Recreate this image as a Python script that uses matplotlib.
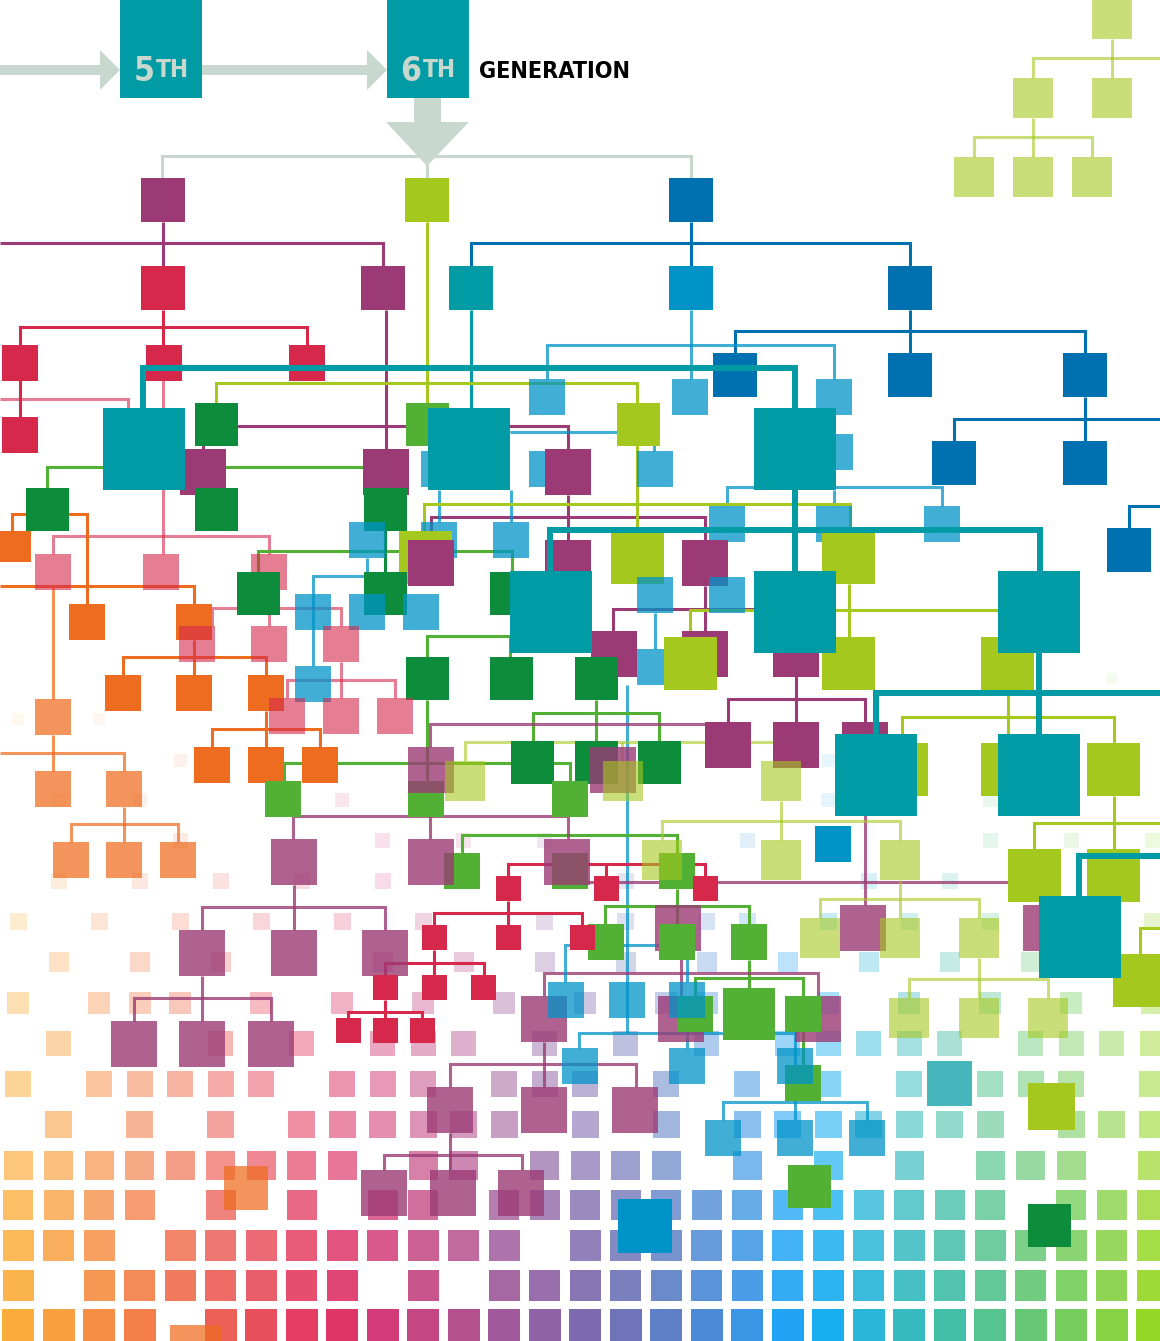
import matplotlib
matplotlib.use("Agg")
import matplotlib.pyplot as plt
from matplotlib.patches import Rectangle, Polygon
from matplotlib import font_manager as fm

W, H = 1160, 1341

# colours: key -> (hex, alpha)
palette = {
    'P': ('#9B3A75', 1.0), 'PL': ('#9B3A75', 0.8),
    'R': ('#D5284B', 1.0), 'PK': ('#D5284B', 0.6),
    'O': ('#EE6C1F', 1.0), 'OL': ('#EE6C1F', 0.73),
    'G': ('#0D8C3B', 1.0), 'GL': ('#52B135', 1.0),
    'LM': ('#A5C81E', 1.0), 'LML': ('#A5C81E', 0.6),
    'T': ('#009BA4', 1.0), 'TL': ('#009BA4', 0.73),
    'B': ('#0071B0', 1.0), 'SB': ('#0093C8', 1.0), 'LB': ('#0093C8', 0.75),
    'GR': ('#C9D8CE', 1.0),
}

# background grid of fading squares
grid_cols = [18 + 40.5 * i for i in range(29)]
grid_colors = ['#FBAD3B', '#F9A040', '#F68F45', '#F3804A', '#F07050', '#EC6058',
               '#E8505E', '#E43E62', '#DE3569', '#D33C78', '#C44682', '#B5508E',
               '#A05A9B', '#8F63A5', '#7E6AAE', '#6F74B8', '#5E80C6', '#4C8AD6',
               '#3A95E4', '#22A4F4', '#19AEF0', '#2AB6D8', '#36BAC0', '#43BEA8',
               '#55C48E', '#66C874', '#76CD5C', '#86D244', '#95D727']
grid_rows = [1325, 1285, 1245, 1205, 1165, 1124, 1084, 1043, 1003, 962, 921,
             881, 840, 800, 760, 719, 678]
grid_sizes = [32, 31, 31, 30, 29, 27, 26, 25, 22, 20, 17, 16, 15, 14, 13, 12, 11]
grid_alpha = [1.0, 0.92, 0.85, 0.78, 0.68, 0.58, 0.52, 0.45, 0.38, 0.3, 0.23,
              0.18, 0.15, 0.12, 0.1, 0.08, 0.07]
grid_mask = [
    "1111" + "0" + "1" * 24,
    "101111111010111" + "11111111111111",
    "111011111111101" + "11111111111111",
    "111101010110111" + "11111111110111",
    "111111111011011" + "11010101011101",
    "010101011111101" + "01011111110111",
    "101111101110111" + "01010101011101",
    "010001010111010" + "10101111101111",
    "101110101010101" + "01100101010101",
    "010101000101010" + "10101010101000",
    "101010101010010" + "10110101010001",
    "010101010100000" + "10000010100000",
    "000010000101010" + "00010100010101",
    "010100001000000" + "00000100010000",
    "000010000000000" + "00000100000000",
    "101000000000000" + "00000000000000",
    "000000000000000" + "00000000000010",
]

# tree nodes: (x, y, size, colour key), drawn in order
nodes = [
    (141, 178, 44, 'P'), (405, 178, 44, 'LM'), (669, 178, 44, 'B'),
    (141, 266, 44, 'R'), (361, 266, 44, 'P'), (669, 266, 44, 'SB'), (888, 266, 44, 'B'),
    (2, 345, 36, 'R'), (146, 345, 36, 'R'), (289, 345, 36, 'R'), (2, 417, 36, 'R'),
    (713, 353, 44, 'B'), (888, 353, 44, 'B'), (1063, 353, 44, 'B'),
    (529, 379, 36, 'LB'), (672, 379, 36, 'LB'), (816, 379, 36, 'LB'),
    (932, 441, 44, 'B'), (1063, 441, 44, 'B'), (1107, 528, 44, 'B'),
    (195, 403, 43, 'G'), (406, 403, 43, 'GL'), (617, 403, 43, 'LM'),
    (421, 451, 36, 'LB'), (529, 451, 36, 'LB'), (637, 451, 36, 'LB'), (817, 434, 36, 'LB'),
    (180, 449, 46, 'P'), (363, 449, 46, 'P'), (545, 449, 46, 'P'),
    (26, 488, 43, 'G'), (195, 488, 43, 'G'), (364, 488, 43, 'G'),
    (0, 531, 31, 'O'),
    (709, 506, 36, 'LB'), (816, 506, 36, 'LB'), (924, 506, 36, 'LB'),
    (349, 522, 36, 'LB'), (421, 522, 36, 'LB'), (493, 522, 36, 'LB'),
    (399, 531, 53, 'LM'), (611, 531, 53, 'LM'), (822, 531, 53, 'LM'),
    (408, 540, 46, 'P'), (545, 540, 46, 'P'), (682, 540, 46, 'P'),
    (35, 554, 36, 'PK'), (143, 554, 36, 'PK'), (251, 554, 36, 'PK'),
    (237, 572, 43, 'G'), (364, 572, 43, 'G'), (490, 572, 43, 'G'),
    (295, 594, 36, 'LB'), (349, 594, 36, 'LB'), (403, 594, 36, 'LB'),
    (637, 577, 36, 'LB'), (709, 577, 36, 'LB'),
    (69, 604, 36, 'O'), (176, 604, 36, 'O'),
    (179, 626, 36, 'PK'), (251, 626, 36, 'PK'), (323, 626, 36, 'PK'),
    (773, 631, 46, 'P'), (591, 631, 46, 'P'), (682, 631, 46, 'P'),
    (637, 649, 36, 'LB'), (664, 637, 53, 'LM'),
    (822, 637, 53, 'LM'), (981, 637, 53, 'LM'),
    (406, 657, 43, 'G'), (490, 657, 43, 'G'), (575, 657, 43, 'G'),
    (105, 675, 36, 'O'), (176, 675, 36, 'O'), (248, 675, 36, 'O'),
    (295, 666, 36, 'LB'),
    (269, 698, 36, 'PK'), (323, 698, 36, 'PK'), (377, 698, 36, 'PK'),
    (35, 699, 36, 'OL'),
    (705, 722, 46, 'P'), (773, 722, 46, 'P'), (842, 722, 46, 'P'),
    (875, 743, 53, 'LM'), (981, 743, 53, 'LM'), (1087, 743, 53, 'LM'),
    (194, 747, 36, 'O'), (248, 747, 36, 'O'), (302, 747, 36, 'O'),
    (511, 741, 43, 'G'), (575, 741, 43, 'G'), (638, 741, 43, 'G'),
    (35, 771, 36, 'OL'), (106, 771, 36, 'OL'),
    (265, 781, 36, 'GL'), (408, 781, 36, 'GL'), (552, 781, 36, 'GL'),
    (408, 747, 46, 'PL'), (590, 747, 46, 'PL'),
    (445, 761, 40, 'LML'), (603, 761, 40, 'LML'), (761, 761, 40, 'LML'),
    (815, 826, 36, 'SB'),
    (53, 842, 36, 'OL'), (106, 842, 36, 'OL'), (160, 842, 36, 'OL'),
    (444, 853, 36, 'GL'), (552, 853, 36, 'GL'), (659, 853, 36, 'GL'),
    (271, 839, 46, 'PL'), (408, 839, 46, 'PL'), (544, 839, 46, 'PL'),
    (642, 840, 40, 'LML'), (761, 840, 40, 'LML'), (880, 840, 40, 'LML'),
    (1008, 849, 53, 'LM'), (1087, 849, 53, 'LM'),
    (496, 876, 25, 'R'), (594, 876, 25, 'R'), (693, 876, 25, 'R'),
    (1113, 954, 53, 'LM'),
    (840, 905, 46, 'PL'), (1023, 905, 46, 'PL'), (655, 905, 46, 'PL'),
    (800, 918, 40, 'LML'), (880, 918, 40, 'LML'), (959, 918, 40, 'LML'),
    (588, 924, 36, 'GL'), (659, 924, 36, 'GL'), (731, 924, 36, 'GL'),
    (422, 925, 25, 'R'), (496, 925, 25, 'R'), (570, 925, 25, 'R'),
    (179, 930, 46, 'PL'), (271, 930, 46, 'PL'), (362, 930, 46, 'PL'),
    (373, 975, 25, 'R'), (422, 975, 25, 'R'), (471, 975, 25, 'R'),
    (336, 1018, 25, 'R'), (373, 1018, 25, 'R'), (410, 1018, 25, 'R'),
    (889, 998, 40, 'LML'), (959, 998, 40, 'LML'), (1028, 998, 40, 'LML'),
    (521, 996, 46, 'PL'), (658, 996, 46, 'PL'), (795, 996, 46, 'PL'),
    (677, 996, 36, 'GL'), (723, 988, 52, 'GL'), (785, 996, 36, 'GL'),
    (548, 982, 36, 'LB'), (609, 982, 36, 'LB'), (669, 982, 36, 'LB'),
    (111, 1021, 46, 'PL'), (179, 1021, 46, 'PL'), (248, 1021, 46, 'PL'),
    (785, 1065, 36, 'GL'),
    (562, 1048, 36, 'LB'), (669, 1048, 36, 'LB'), (777, 1048, 36, 'LB'),
    (927, 1061, 45, 'TL'), (1028, 1083, 47, 'LM'),
    (427, 1087, 46, 'PL'), (521, 1087, 46, 'PL'), (612, 1087, 46, 'PL'),
    (705, 1120, 36, 'LB'), (777, 1120, 36, 'LB'), (849, 1120, 36, 'LB'),
    (224, 1166, 44, 'OL'), (788, 1165, 43, 'GL'),
    (361, 1170, 46, 'PL'), (430, 1170, 46, 'PL'), (498, 1170, 46, 'PL'),
    (618, 1199, 54, 'SB'), (1028, 1204, 43, 'G'),
    (170, 1325, 52, 'OL'),
    # pale tree, top right
    (1092, -1, 40, 'LML'), (1013, 78, 40, 'LML'), (1092, 78, 40, 'LML'),
    (954, 157, 40, 'LML'), (1013, 157, 40, 'LML'), (1072, 157, 40, 'LML'),
]

teal_nodes = [(449, 266, 44), (103, 408, 82), (428, 408, 82), (754, 408, 82),
              (510, 571, 82), (754, 571, 82), (998, 571, 82),
              (835, 734, 82), (998, 734, 82), (1039, 896, 82)]

# connectors: (points, colour key)
links = [
    ([(162, 178), (162, 156), (691, 156), (691, 178)], 'GR'),
    ([(427, 160), (427, 178)], 'GR'),
    ([(163, 222), (163, 266)], 'P'),
    ([(0, 243), (383, 243), (383, 266)], 'P'),
    ([(427, 222), (427, 403)], 'LM'),
    ([(691, 222), (691, 266)], 'B'),
    ([(471, 266), (471, 243), (910, 243), (910, 266)], 'B'),
    ([(163, 310), (163, 345)], 'R'),
    ([(20, 345), (20, 327), (307, 327), (307, 345)], 'R'),
    ([(20, 380), (20, 417)], 'R'),
    ([(0, 399), (128, 399), (128, 408)], 'PK'),
    ([(163, 380), (163, 554)], 'PK'),
    ([(53, 554), (53, 536), (269, 536), (269, 554)], 'PK'),
    ([(386, 310), (386, 449)], 'P'),
    ([(203, 449), (203, 426), (568, 426), (568, 449)], 'P'),
    ([(568, 495), (568, 540)], 'P'),
    ([(431, 540), (431, 517), (705, 517), (705, 540)], 'P'),
    ([(613, 631), (613, 609), (754, 609)], 'P'),
    ([(705, 586), (705, 631)], 'P'),
    ([(796, 653), (796, 722)], 'P'),
    ([(728, 722), (728, 699), (865, 699), (865, 722)], 'P'),
    ([(471, 310), (471, 408)], 'T'),
    ([(910, 310), (910, 353)], 'B'),
    ([(735, 353), (735, 331), (1085, 331), (1085, 353)], 'B'),
    ([(1085, 397), (1085, 441)], 'B'),
    ([(954, 441), (954, 419), (1160, 419)], 'B'),
    ([(1129, 528), (1129, 506), (1160, 506)], 'B'),
    ([(691, 310), (691, 379)], 'LB'),
    ([(547, 379), (547, 345), (834, 345), (834, 379)], 'LB'),
    ([(510, 432), (654, 432), (654, 451)], 'LB'),
    ([(727, 506), (727, 487), (942, 487), (942, 506)], 'LB'),
    ([(834, 490), (834, 506)], 'LB'),
    ([(439, 490), (439, 522)], 'LB'),
    ([(511, 490), (511, 522)], 'LB'),
    ([(655, 613), (655, 649)], 'LB'),
    ([(627, 685), (627, 1033)], 'LB'),
    ([(313, 666), (313, 576), (367, 576), (367, 558)], 'LB'),
    ([(216, 403), (216, 383), (637, 383), (637, 531)], 'LM'),
    ([(424, 531), (424, 504), (850, 504), (850, 531)], 'LM'),
    ([(849, 584), (849, 637)], 'LM'),
    ([(690, 637), (690, 610), (998, 610)], 'LM'),
    ([(1008, 690), (1008, 743)], 'LM'),
    ([(902, 743), (902, 717), (1114, 717), (1114, 743)], 'LM'),
    ([(1114, 796), (1114, 849)], 'LM'),
    ([(1034, 849), (1034, 823), (1160, 823)], 'LM'),
    ([(1140, 954), (1140, 928), (1160, 928)], 'LM'),
    ([(47, 488), (47, 467), (406, 467)], 'GL'),
    ([(258, 572), (258, 551), (512, 551), (512, 572)], 'GL'),
    ([(385, 530), (385, 572)], 'G'),
    ([(427, 657), (427, 636), (510, 636), (510, 657)], 'GL'),
    ([(427, 700), (427, 781)], 'GL'),
    ([(533, 741), (533, 713), (659, 713), (659, 741)], 'GL'),
    ([(596, 700), (596, 741)], 'GL'),
    ([(284, 781), (284, 763), (570, 763), (570, 781)], 'GL'),
    ([(462, 853), (462, 835), (677, 835), (677, 853)], 'GL'),
    ([(677, 889), (677, 924)], 'GL'),
    ([(605, 924), (605, 906), (749, 906), (749, 924)], 'GL'),
    ([(749, 960), (749, 988)], 'GL'),
    ([(695, 996), (695, 978), (803, 978), (803, 996)], 'GL'),
    ([(803, 1032), (803, 1065)], 'GL'),
    ([(12, 531), (12, 514), (87, 514), (87, 604)], 'O'),
    ([(0, 586), (194, 586), (194, 604)], 'O'),
    ([(194, 640), (194, 675)], 'O'),
    ([(123, 675), (123, 657), (266, 657), (266, 675)], 'O'),
    ([(266, 711), (266, 747)], 'O'),
    ([(212, 747), (212, 729), (320, 729), (320, 747)], 'O'),
    ([(53, 586), (53, 699)], 'OL'),
    ([(53, 735), (53, 771)], 'OL'),
    ([(0, 753), (124, 753), (124, 771)], 'OL'),
    ([(124, 807), (124, 842)], 'OL'),
    ([(71, 842), (71, 824), (178, 824), (178, 842)], 'OL'),
    ([(269, 590), (269, 626)], 'PK'),
    ([(212, 626), (212, 608), (341, 608), (341, 626)], 'PK'),
    ([(341, 662), (341, 698)], 'PK'),
    ([(287, 698), (287, 680), (395, 680), (395, 698)], 'PK'),
    ([(430, 747), (430, 724), (705, 724)], 'PL'),
    ([(430, 793), (430, 839)], 'PL'),
    ([(293, 839), (293, 816), (568, 816), (568, 839)], 'PL'),
    ([(865, 768), (865, 905)], 'PL'),
    ([(567, 882), (1008, 882)], 'PL'),
    ([(681, 951), (681, 996)], 'PL'),
    ([(544, 996), (544, 973), (818, 973), (818, 996)], 'PL'),
    ([(544, 1042), (544, 1087)], 'PL'),
    ([(450, 1087), (450, 1064), (636, 1064), (636, 1087)], 'PL'),
    ([(450, 1133), (450, 1170)], 'PL'),
    ([(384, 1170), (384, 1155), (522, 1155), (522, 1170)], 'PL'),
    ([(294, 885), (294, 930)], 'PL'),
    ([(202, 930), (202, 907), (385, 907), (385, 930)], 'PL'),
    ([(202, 976), (202, 1021)], 'PL'),
    ([(134, 1021), (134, 998), (271, 998), (271, 1021)], 'PL'),
    ([(465, 761), (465, 742), (780, 742), (780, 761)], 'LML'),
    ([(622, 742), (622, 761)], 'LML'),
    ([(781, 801), (781, 840)], 'LML'),
    ([(662, 840), (662, 821), (900, 821), (900, 840)], 'LML'),
    ([(900, 880), (900, 918)], 'LML'),
    ([(820, 918), (820, 899), (979, 899), (979, 918)], 'LML'),
    ([(979, 958), (979, 998)], 'LML'),
    ([(909, 998), (909, 979), (1048, 979), (1048, 998)], 'LML'),
    ([(1112, 39), (1112, 78)], 'LML'),
    ([(1033, 78), (1033, 58), (1160, 58)], 'LML'),
    ([(1033, 118), (1033, 157)], 'LML'),
    ([(974, 157), (974, 137), (1092, 137), (1092, 157)], 'LML'),
    ([(606, 885), (606, 864)], 'R'),
    ([(508, 876), (508, 864), (705, 864), (705, 876)], 'R'),
    ([(508, 901), (508, 925)], 'R'),
    ([(434, 925), (434, 913), (582, 913), (582, 925)], 'R'),
    ([(434, 950), (434, 975)], 'R'),
    ([(385, 975), (385, 963), (484, 963), (484, 975)], 'R'),
    ([(385, 1000), (385, 1018)], 'R'),
    ([(348, 1018), (348, 1012), (422, 1012), (422, 1018)], 'R'),
    ([(565, 982), (565, 945), (687, 945), (687, 982)], 'LB'),
    ([(579, 1048), (579, 1033), (795, 1033), (795, 1120)], 'LB'),
    ([(687, 1018), (687, 1048)], 'LB'),
    ([(723, 1120), (723, 1102), (867, 1102), (867, 1120)], 'LB'),
]

teal_links = [
    [(143, 408), (143, 368), (795, 368), (795, 408)],
    [(795, 490), (795, 571)],
    [(550, 571), (550, 530), (1040, 530), (1040, 571)],
    [(1039, 653), (1039, 734)],
    [(876, 734), (876, 693), (1160, 693)],
    [(1079, 896), (1079, 856), (1160, 856)],
]

gen_boxes = [(120, '5'), (387, '6')]


def narrow_font():
    # look for a bold condensed face; otherwise plain bold sans
    best = None
    for f in fm.fontManager.ttflist:
        narrow = ('Narrow' in f.name or 'Condensed' in f.name
                  or 'condensed' in str(f.stretch))
        if not narrow:
            continue
        w = f.weight if isinstance(f.weight, int) else fm.weight_dict.get(f.weight, 400)
        score = abs(w - 700)
        if best is None or score < best[0]:
            best = (score, f.fname)
    if best is not None:
        return fm.FontProperties(fname=best[1])
    return fm.FontProperties(family='DejaVu Sans', weight='bold')


fig = plt.figure(figsize=(11.6, 13.41), dpi=100)
ax = fig.add_axes([0, 0, 1, 1])
ax.set_xlim(0, W)
ax.set_ylim(H, 0)
ax.axis('off')

# background grid
for yc, s, a, mask in zip(grid_rows, grid_sizes, grid_alpha, grid_mask):
    for c, xc in enumerate(grid_cols):
        if c < len(mask) and mask[c] == '1':
            ax.add_patch(Rectangle((xc - s / 2, yc - s / 2), s, s,
                                   fc=grid_colors[c], ec='none', alpha=a, zorder=1))

# connectors
for pts, key in links:
    col, a = palette[key]
    xs, ys = zip(*pts)
    ax.plot(xs, ys, color=col, alpha=a, lw=2.2, solid_joinstyle='miter',
            solid_capstyle='butt', zorder=2)

# nodes
for i, (x, y, s, key) in enumerate(nodes):
    col, a = palette[key]
    ax.add_patch(Rectangle((x, y), s, s, fc=col, ec='none', alpha=a, zorder=3 + i * 0.001))

# thick teal links and teal nodes on top
for pts in teal_links:
    xs, ys = zip(*pts)
    ax.plot(xs, ys, color=palette['T'][0], lw=4.3, solid_joinstyle='miter',
            solid_capstyle='butt', zorder=5)
for x, y, s in teal_nodes:
    ax.add_patch(Rectangle((x, y), s, s, fc=palette['T'][0], ec='none', zorder=6))

# header: generation arrows and boxes
grey = palette['GR'][0]
ax.add_patch(Rectangle((0, 65), 100, 10, fc=grey, ec='none', zorder=4))
ax.add_patch(Polygon([(100, 50), (120, 70), (100, 90)], fc=grey, ec='none', zorder=4))
ax.add_patch(Rectangle((202, 65), 166, 10, fc=grey, ec='none', zorder=4))
ax.add_patch(Polygon([(367, 50), (387, 70), (367, 90)], fc=grey, ec='none', zorder=4))
ax.add_patch(Rectangle((414, 98), 27, 25, fc=grey, ec='none', zorder=4))
ax.add_patch(Polygon([(386, 122), (469, 122), (427, 166)], fc=grey, ec='none', zorder=4))

fp = narrow_font()
renderer = fig.canvas.get_renderer()


def fit(t, target_w):
    w = t.get_window_extent(renderer=renderer).width
    t.set_fontsize(t.get_fontsize() * target_w / w)


for x0, num in gen_boxes:
    ax.add_patch(Rectangle((x0, 0), 82, 98, fc=palette['T'][0], ec='none', zorder=6))
    tn = ax.text(0, 81, num, color=grey, fontproperties=fp, fontsize=28,
                 ha='left', va='baseline', zorder=7)
    tt = ax.text(0, 77, 'TH', color=grey, fontproperties=fp, fontsize=20,
                 ha='left', va='baseline', zorder=7)
    fit(tn, 21)
    tt.set_fontsize(tn.get_fontsize() * 0.72)
    wn = tn.get_window_extent(renderer=renderer).width
    wt = tt.get_window_extent(renderer=renderer).width
    left = x0 + 41 - (wn + wt + 1) / 2
    tn.set_x(left)
    tt.set_x(left + wn + 1)

tg = ax.text(479, 78, 'GENERATION', color='black', fontproperties=fp, fontsize=20,
             ha='left', va='baseline', zorder=7)
fit(tg, 152)

fig.savefig('out.png', dpi=100)
